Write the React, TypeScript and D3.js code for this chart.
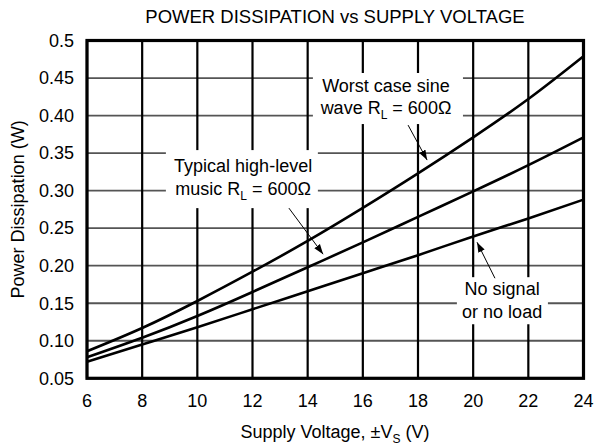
import React from 'react';
import * as d3 from 'd3';

// curve values
const voltages = [6, 8, 10, 12, 14, 16, 18, 20, 22, 24];
const worstCase = [0.086, 0.117, 0.153, 0.192, 0.233, 0.277, 0.323, 0.371, 0.422, 0.479];
const typicalMusic = [0.078, 0.104, 0.133, 0.165, 0.198, 0.231, 0.265, 0.299, 0.334, 0.371];
const noSignal = [0.072, 0.095, 0.118, 0.142, 0.166, 0.190, 0.214, 0.239, 0.263, 0.288];

const xTicks = [6, 8, 10, 12, 14, 16, 18, 20, 22, 24];
const yTicks = [0.05, 0.1, 0.15, 0.2, 0.25, 0.3, 0.35, 0.4, 0.45, 0.5];
const yTickLabels = ['0.05', '0.10', '0.15', '0.20', '0.25', '0.30', '0.35', '0.40', '0.45', '0.5'];

// annotations, in data units: [x0, x1, yTop, yBottom] for the white boxes
const labels = [
  { lines: ['Worst case sine', 'wave R|L| = 600Ω'], cx: 16.84, base: [0.4313, 0.402], box: [14.19, 19.63, 0.4567, 0.3887], arrow: [17.64, 0.3873, 18.33, 0.3407] },
  { lines: ['Typical high-level', 'music R|L| = 600Ω'], cx: 11.66, base: [0.3247, 0.294], box: [8.86, 14.37, 0.354, 0.2767], arrow: [13.32, 0.2767, 14.56, 0.2153] },
  { lines: ['No signal', 'or no load'], cx: 21.05, base: [0.1607, 0.13], box: [19.41, 22.71, 0.1847, 0.122], arrow: [20.79, 0.1833, 20.14, 0.2313] },
];

const font = '"Liberation Sans", Arial, sans-serif';

export default function App() {
  const width = 594;
  const height = 444;

  const x = d3.scaleLinear().domain([6, 24]).range([87, 583.5]);
  const y = d3.scaleLinear().domain([0.05, 0.5]).range([378.3, 40.5]);

  const line = d3.line<number>()
    .x((_, i) => x(voltages[i]))
    .y(d => y(d))
    .curve(d3.curveNatural);

  const renderLine = (s: string, key: number, base: number, cx: number) => {
    const parts = s.split('|');
    if (parts.length === 1) {
      return <text key={key} x={x(cx)} y={y(base)} textAnchor="middle">{s}</text>;
    }
    return (
      <text key={key} x={x(cx)} y={y(base)} textAnchor="middle">
        <tspan>{parts[0]}</tspan>
        <tspan dy={5} fontSize={12}>{parts[1]}</tspan>
        <tspan dy={-5}>{parts[2]}</tspan>
      </text>
    );
  };

  return (
    <svg width={width} height={height} style={{ position: 'absolute', left: 0, top: 0, background: '#fff' }}
      fontFamily={font} fontSize={18}>
      <defs>
        <marker id="arrow" viewBox="0 0 10 10" refX={10} refY={5} markerWidth={10} markerHeight={10}
          markerUnits="userSpaceOnUse" orient="auto">
          <path d="M0,1.5 L10,5 L0,8.5 Z" fill="#000" />
        </marker>
      </defs>

      <text x={335} y={23} textAnchor="middle" fontSize={18.5}>POWER DISSIPATION vs SUPPLY VOLTAGE</text>

      {/* grid */}
      {yTicks.map(t => (
        <line key={'h' + t} x1={x(6)} x2={x(24)} y1={y(t)} y2={y(t)} stroke="#555" strokeWidth={1.8} />
      ))}
      {xTicks.map(t => (
        <line key={'v' + t} x1={x(t)} x2={x(t)} y1={y(0.5)} y2={y(0.05)} stroke="#000" strokeWidth={2.2} />
      ))}

      {/* label boxes mask the grid */}
      {labels.map((l, i) => (
        <rect key={'b' + i} x={x(l.box[0])} y={y(l.box[2])} width={x(l.box[1]) - x(l.box[0])}
          height={y(l.box[3]) - y(l.box[2])} fill="#fff" />
      ))}

      {/* curves */}
      {[worstCase, typicalMusic, noSignal].map((s, i) => (
        <path key={'c' + i} d={line(s) || ''} fill="none" stroke="#000" strokeWidth={2.6} />
      ))}

      <rect x={x(6)} y={y(0.5)} width={x(24) - x(6)} height={y(0.05) - y(0.5)} fill="none" stroke="#000" strokeWidth={3.2} />

      {/* axes labels */}
      {yTicks.map((t, i) => (
        <text key={'yl' + t} x={74} y={y(t)} dy="0.35em" textAnchor="end">{yTickLabels[i]}</text>
      ))}
      {xTicks.map(t => (
        <text key={'xl' + t} x={x(t)} y={406.5} textAnchor="middle">{t}</text>
      ))}
      <text x={335} y={437.5} textAnchor="middle">
        <tspan>Supply Voltage, ±V</tspan>
        <tspan dy={5} fontSize={12}>S</tspan>
        <tspan dy={-5}> (V)</tspan>
      </text>
      <text transform={`translate(24,${(y(0.5) + y(0.05)) / 2}) rotate(-90)`} textAnchor="middle">Power Dissipation (W)</text>

      {/* annotations */}
      {labels.map((l, i) => (
        <g key={'a' + i}>
          {l.lines.map((s, j) => renderLine(s, j, l.base[j], l.cx))}
          <line x1={x(l.arrow[0])} y1={y(l.arrow[1])} x2={x(l.arrow[2])} y2={y(l.arrow[3])}
            stroke="#000" strokeWidth={1} markerEnd="url(#arrow)" />
        </g>
      ))}
    </svg>
  );
}
